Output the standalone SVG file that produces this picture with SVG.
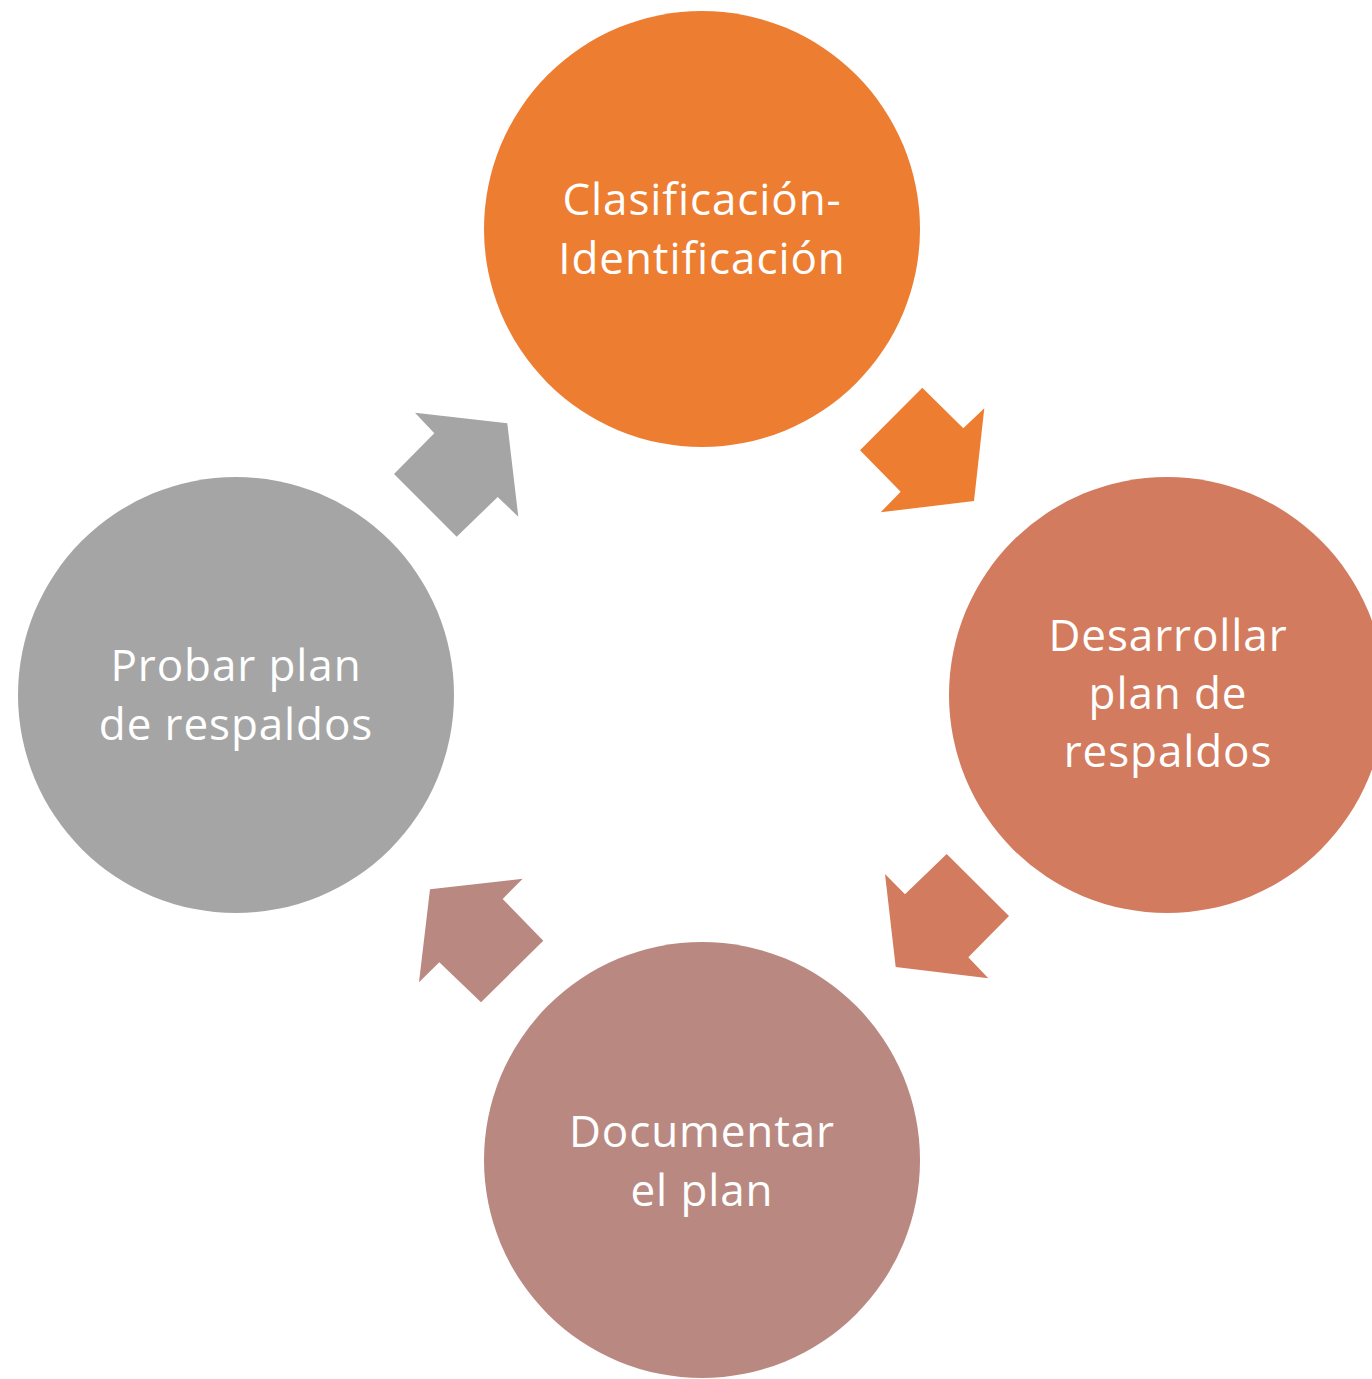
<svg xmlns="http://www.w3.org/2000/svg" width="1372" height="1379" viewBox="0 0 1372 1379">
<style>
.lbl{font-family:"Open Sans","Liberation Sans",sans-serif;font-size:44px;letter-spacing:0.9px;fill:#ffffff;text-anchor:middle}
</style>
<rect width="1372" height="1379" fill="#ffffff"/>
<g id="connectors">
<polygon id="arrow1" fill="#ED7D31" points="922.3,387.7 963.3,428.3 984.3,408.3 974,501 880.7,512.3 900.7,491.7 860,450.3"/>
<polygon id="arrow2" fill="#D27B5E" points="946.7,854 1009,916 968.3,957.3 988.3,978.3 895.7,967 885,874 905,894.3"/>
<polygon id="arrow3" fill="#B98981" points="430,889.3 522.7,878.7 502.7,899 543.3,940.7 481,1002.3 439.3,962.3 419,982.3"/>
<polygon id="arrow4" fill="#A5A5A5" points="415,412.7 507.3,423.3 518.3,516.7 497.7,497 456.7,536.7 394,474 434.3,433.3"/>
</g>
<g id="node1">
<circle cx="702" cy="229" r="218" fill="#ED7D31"/>
<text class="lbl" x="702" y="215">Clasificación-</text>
<text class="lbl" x="702" y="274">Identificación</text>
</g>
<g id="node2">
<circle cx="1167" cy="695" r="218" fill="#D27B5E"/>
<text class="lbl" x="1168" y="651">Desarrollar</text>
<text class="lbl" x="1168" y="709">plan de</text>
<text class="lbl" x="1168" y="767">respaldos</text>
</g>
<g id="node3">
<circle cx="702" cy="1160" r="218" fill="#B98981"/>
<text class="lbl" x="702" y="1147">Documentar</text>
<text class="lbl" x="702" y="1206">el plan</text>
</g>
<g id="node4">
<circle cx="236" cy="695" r="218" fill="#A5A5A5"/>
<text class="lbl" x="236" y="681">Probar plan</text>
<text class="lbl" x="236" y="740">de respaldos</text>
</g>
</svg>
